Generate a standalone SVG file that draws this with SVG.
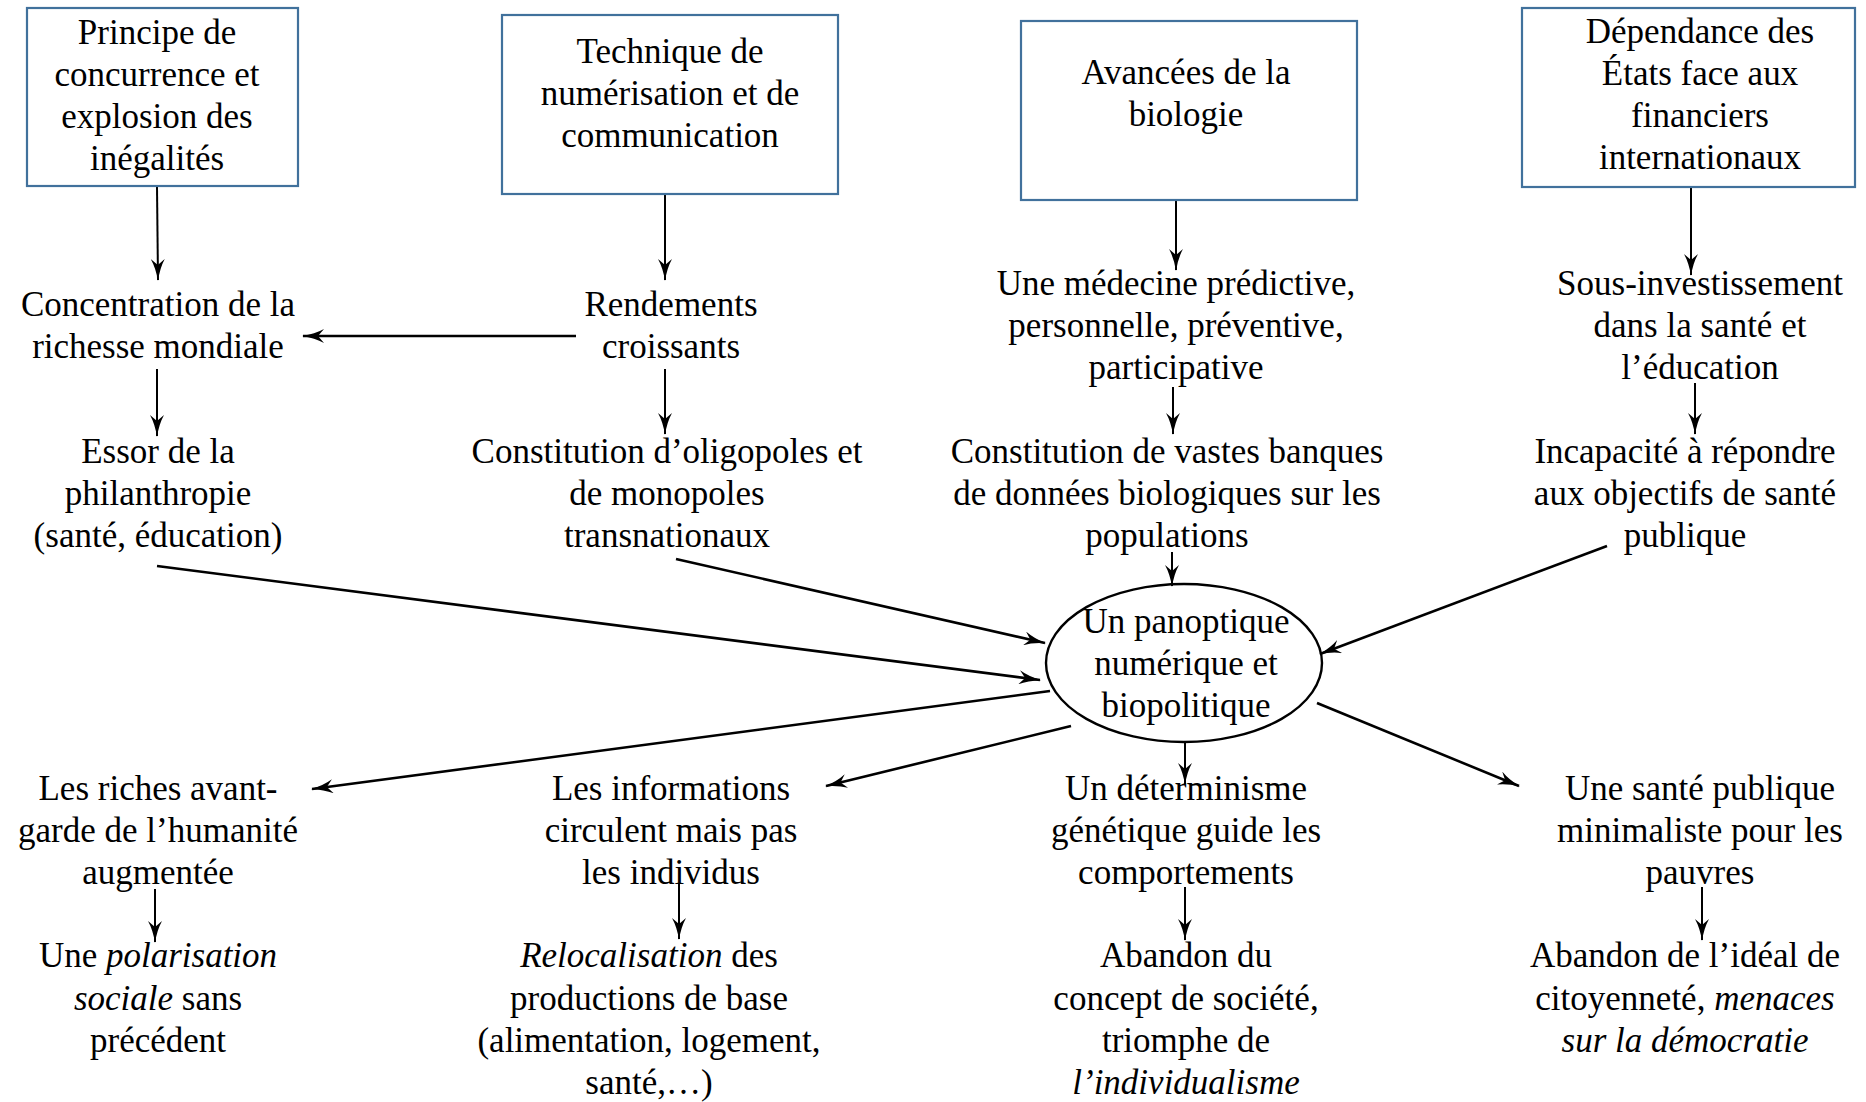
<svg xmlns="http://www.w3.org/2000/svg" width="1866" height="1102" viewBox="0 0 1866 1102">
<style>
  text { font-family: "Liberation Serif", "Times New Roman", serif; font-size: 35px; fill: #000; text-anchor: middle; }
  .box { fill: #fff; stroke: #41719C; stroke-width: 2.2; }
  .c { stroke: #000; stroke-width: 2; fill: none; marker-end: url(#ah); }
  .t { stroke-width: 2.6; }
  .i { font-style: italic; }
</style>
<defs>
  <marker id="ah" viewBox="0 0 22 14" refX="21" refY="7" markerWidth="22" markerHeight="14" markerUnits="userSpaceOnUse" orient="auto">
    <path d="M0,0 Q9,5 22,7 Q9,9 0,14 L6,7 z" fill="#000"/>
  </marker>
</defs>
<rect width="1866" height="1102" fill="#fff"/>

<g id="connectors">
  <line class="c" x1="157" y1="187" x2="158" y2="280"/>
  <line class="c" x1="665" y1="194" x2="665" y2="280"/>
  <line class="c" x1="1176" y1="200" x2="1176" y2="270"/>
  <line class="c" x1="1691" y1="187" x2="1691" y2="275"/>
  <line class="c t" x1="576" y1="336" x2="303" y2="336"/>
  <line class="c" x1="157" y1="369" x2="157" y2="436"/>
  <line class="c" x1="665" y1="369" x2="665" y2="434"/>
  <line class="c" x1="1173" y1="387" x2="1173" y2="434"/>
  <line class="c" x1="1695" y1="383" x2="1695" y2="434"/>
  <line class="c t" x1="157" y1="566" x2="1040" y2="680"/>
  <line class="c t" x1="676" y1="559" x2="1045" y2="643"/>
  <line class="c" x1="1172" y1="552" x2="1172" y2="586"/>
  <line class="c t" x1="1607" y1="546" x2="1320" y2="654"/>
  <line class="c t" x1="1050" y1="691" x2="312" y2="789"/>
  <line class="c t" x1="1071" y1="726" x2="826" y2="786"/>
  <line class="c" x1="1185" y1="741" x2="1185" y2="784"/>
  <line class="c t" x1="1317" y1="703" x2="1519" y2="786"/>
  <line class="c" x1="155" y1="889" x2="155" y2="942"/>
  <line class="c" x1="679" y1="883" x2="679" y2="939"/>
  <line class="c" x1="1185" y1="887" x2="1185" y2="940"/>
  <line class="c" x1="1702" y1="887" x2="1702" y2="940"/>
</g>

<g id="box1">
  <rect class="box" x="27" y="8" width="271" height="178"/>
  <text x="157" y="44">Principe de</text>
  <text x="157" y="86">concurrence et</text>
  <text x="157" y="128">explosion des</text>
  <text x="157" y="170">inégalités</text>
</g>
<g id="box2">
  <rect class="box" x="502" y="15" width="336" height="179"/>
  <text x="670" y="63">Technique de</text>
  <text x="670" y="105">numérisation et de</text>
  <text x="670" y="147">communication</text>
</g>
<g id="box3">
  <rect class="box" x="1021" y="21" width="336" height="179"/>
  <text x="1186" y="84">Avancées de la</text>
  <text x="1186" y="126">biologie</text>
</g>
<g id="box4">
  <rect class="box" x="1522" y="8" width="333" height="179"/>
  <text x="1700" y="43">Dépendance des</text>
  <text x="1700" y="85">États face aux</text>
  <text x="1700" y="127">financiers</text>
  <text x="1700" y="169">internationaux</text>
</g>

<g id="concentration">
  <text x="158" y="316">Concentration de la</text>
  <text x="158" y="358">richesse mondiale</text>
</g>
<g id="rendements">
  <text x="671" y="316">Rendements</text>
  <text x="671" y="358">croissants</text>
</g>
<g id="medecine">
  <text x="1176" y="295">Une médecine prédictive,</text>
  <text x="1176" y="337">personnelle, préventive,</text>
  <text x="1176" y="379">participative</text>
</g>
<g id="sousinvest">
  <text x="1700" y="295">Sous-investissement</text>
  <text x="1700" y="337">dans la santé et</text>
  <text x="1700" y="379">l’éducation</text>
</g>

<g id="essor">
  <text x="158" y="463">Essor de la</text>
  <text x="158" y="505">philanthropie</text>
  <text x="158" y="547">(santé, éducation)</text>
</g>
<g id="oligopoles">
  <text x="667" y="463">Constitution d’oligopoles et</text>
  <text x="667" y="505">de monopoles</text>
  <text x="667" y="547">transnationaux</text>
</g>
<g id="banques">
  <text x="1167" y="463">Constitution de vastes banques</text>
  <text x="1167" y="505">de données biologiques sur les</text>
  <text x="1167" y="547">populations</text>
</g>
<g id="incapacite">
  <text x="1685" y="463">Incapacité à répondre</text>
  <text x="1685" y="505">aux objectifs de santé</text>
  <text x="1685" y="547">publique</text>
</g>

<g id="panoptique">
  <ellipse cx="1184" cy="663" rx="138" ry="79" fill="none" stroke="#000" stroke-width="2.4"/>
  <text x="1186" y="633">Un panoptique</text>
  <text x="1186" y="675">numérique et</text>
  <text x="1186" y="717">biopolitique</text>
</g>

<g id="riches">
  <text x="158" y="800">Les riches avant-</text>
  <text x="158" y="842">garde de l’humanité</text>
  <text x="158" y="884">augmentée</text>
</g>
<g id="informations">
  <text x="671" y="800">Les informations</text>
  <text x="671" y="842">circulent mais pas</text>
  <text x="671" y="884">les individus</text>
</g>
<g id="determinisme">
  <text x="1186" y="800">Un déterminisme</text>
  <text x="1186" y="842">génétique guide les</text>
  <text x="1186" y="884">comportements</text>
</g>
<g id="santepublique">
  <text x="1700" y="800">Une santé publique</text>
  <text x="1700" y="842">minimaliste pour les</text>
  <text x="1700" y="884">pauvres</text>
</g>

<g id="polarisation">
  <text x="158" y="967">Une <tspan class="i">polarisation</tspan></text>
  <text x="158" y="1010"><tspan class="i">sociale</tspan> sans</text>
  <text x="158" y="1052">précédent</text>
</g>
<g id="relocalisation">
  <text x="649" y="967"><tspan class="i">Relocalisation</tspan> des</text>
  <text x="649" y="1010">productions de base</text>
  <text x="649" y="1052">(alimentation, logement,</text>
  <text x="649" y="1094">santé,…)</text>
</g>
<g id="abandon1">
  <text x="1186" y="967">Abandon du</text>
  <text x="1186" y="1010">concept de société,</text>
  <text x="1186" y="1052">triomphe de</text>
  <text x="1186" y="1094" class="i">l’individualisme</text>
</g>
<g id="abandon2">
  <text x="1685" y="967">Abandon de l’idéal de</text>
  <text x="1685" y="1010">citoyenneté, <tspan class="i">menaces</tspan></text>
  <text x="1685" y="1052" class="i">sur la démocratie</text>
</g>
</svg>
